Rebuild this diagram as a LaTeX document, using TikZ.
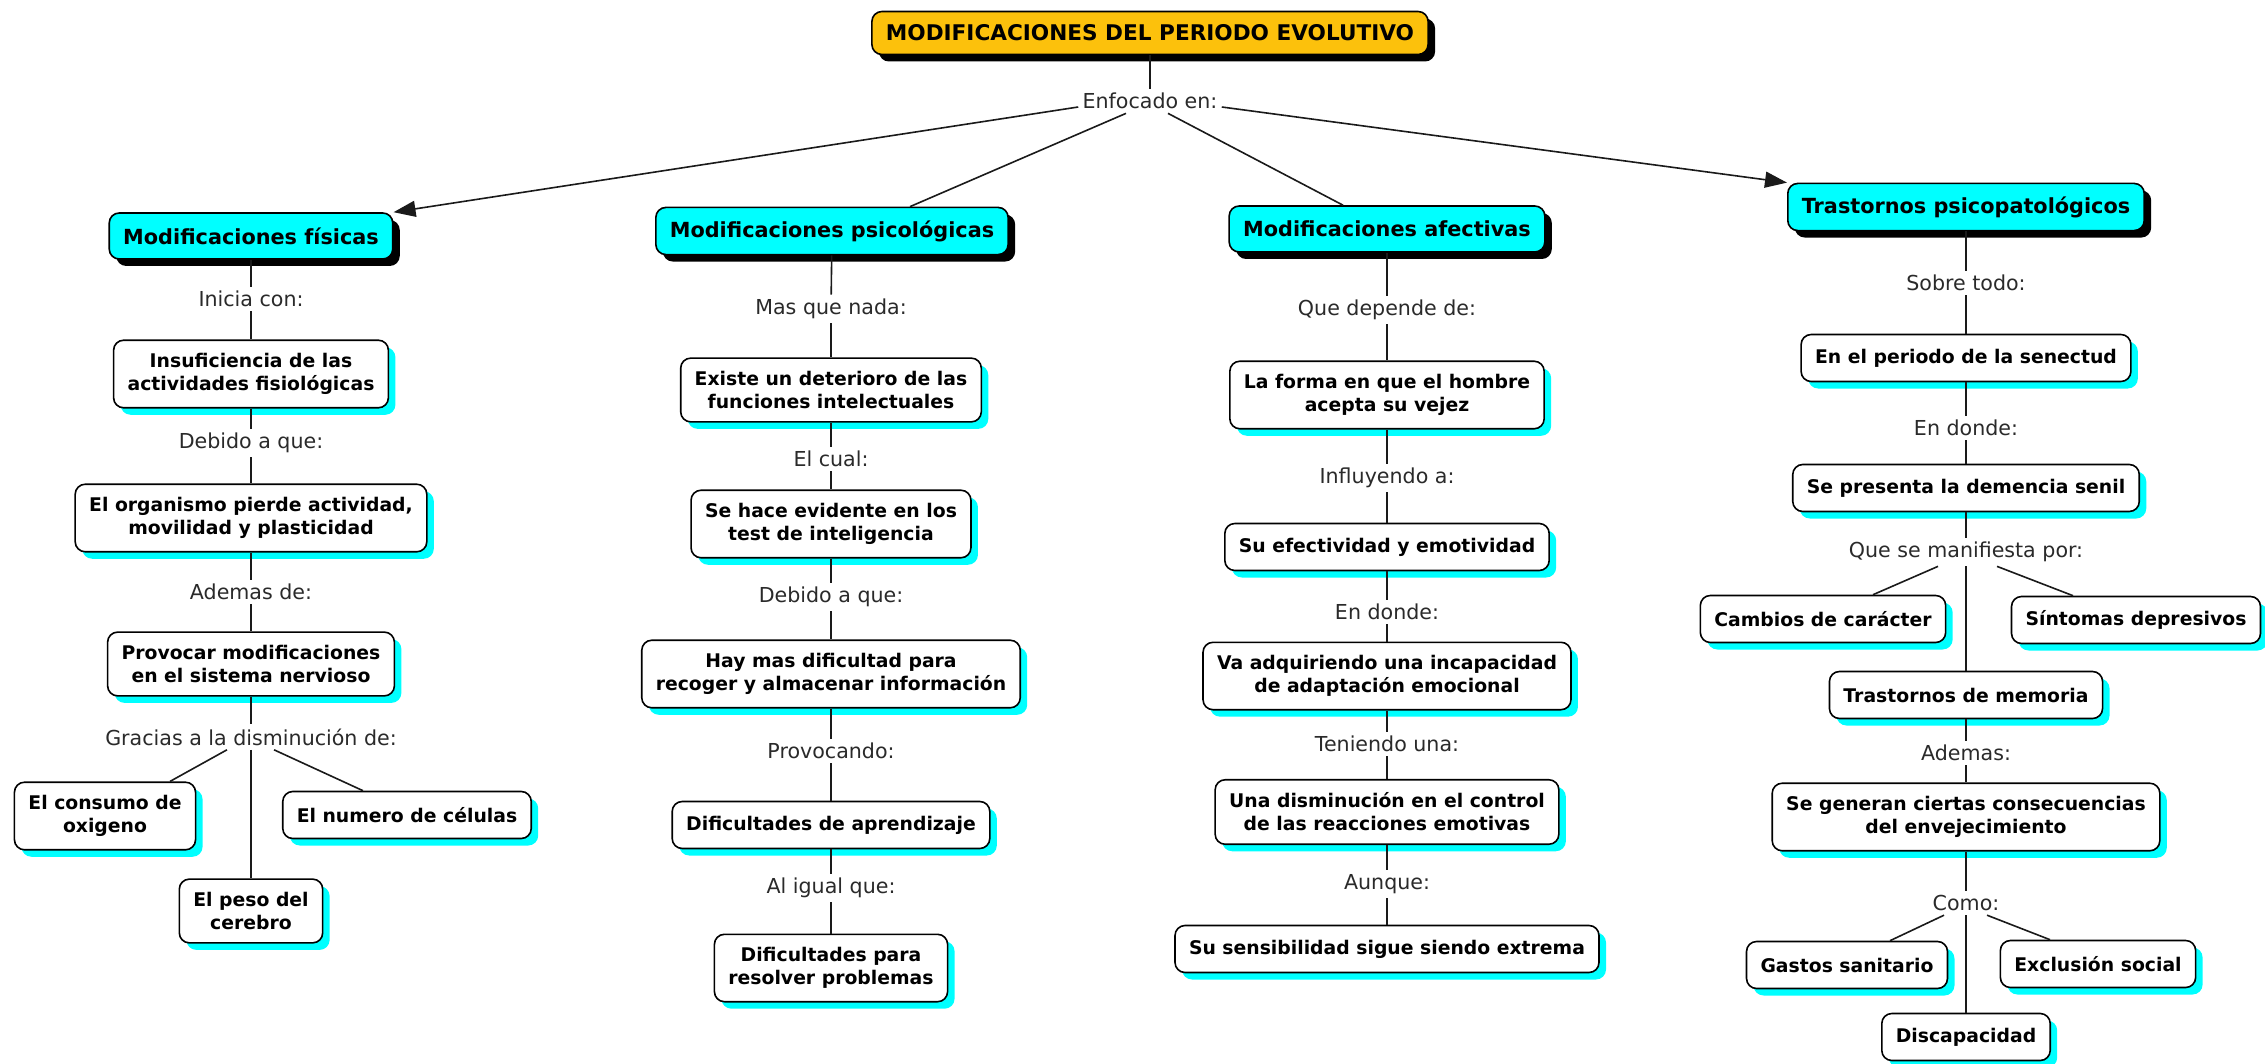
\documentclass[tikz,border=0pt]{standalone}
\usepackage{fontspec}
\setmainfont{DejaVu Sans}
\usetikzlibrary{shadows,arrows.meta}
\definecolor{gold}{HTML}{FCC10C}
\definecolor{cyanbox}{HTML}{00FFFF}
\definecolor{linec}{HTML}{1A1A1A}
\definecolor{labc}{HTML}{2A2A2A}
\begin{document}
\begin{tikzpicture}[x=0.5pt,y=-0.5pt,
  base/.style={rounded corners=5pt, draw=black, line width=0.8pt, align=center,
    font=\bfseries\fontsize{9.4}{11.6}\selectfont, inner xsep=7pt, inner ysep=6.5pt, minimum height=23.5pt},
  titlebox/.style={base, fill=gold, font=\bfseries\fontsize{10.8}{13}\selectfont, inner ysep=5pt, minimum height=21.5pt,
    drop shadow={shadow xshift=3.5pt, shadow yshift=-3.5pt, fill=black, opacity=1}},
  catbox/.style={base, fill=cyanbox, font=\bfseries\fontsize{10.4}{12.5}\selectfont, minimum height=23pt,
    drop shadow={shadow xshift=3.5pt, shadow yshift=-3.5pt, fill=black, opacity=1}},
  itembox/.style={base, fill=white,
    drop shadow={shadow xshift=3.5pt, shadow yshift=-3.5pt, fill=cyanbox, opacity=1}},
  lab/.style={font=\fontsize{10.3}{12}\selectfont, text=labc, inner sep=2pt},
  conn/.style={draw=linec, line width=0.8pt},
  arr/.style={conn, -{Triangle[length=11pt,width=8pt]}}
]
\fill[white] (0,0) rectangle (2265,1064);
\useasboundingbox (0,0) rectangle (2265,1064);

% top
\node[titlebox] (t0) at (1150,33) {MODIFICACIONES DEL PERIODO EVOLUTIVO};
\node[lab] (l0) at (1150,101) {Enfocado en:};

% column 1
\node[catbox] (a0) at (251,236) {Modificaciones físicas};
\node[lab] (la1) at (251,299) {Inicia con:};
\node[itembox] (a1) at (251,374) {Insuficiencia de las\\actividades fisiológicas};
\node[lab] (la2) at (251,443) {Debido a que:};
\node[itembox] (a2) at (251,518) {El organismo pierde actividad,\\movilidad y plasticidad};
\node[lab] (la3) at (251,592) {Ademas de:};
\node[itembox] (a3) at (251,664) {Provocar modificaciones\\en el sistema nervioso};
\node[lab] (la4) at (251,737) {Gracias a la disminución de:};
\node[itembox] (a4) at (105,816) {El consumo de\\oxigeno};
\node[itembox] (a5) at (251,911) {El peso del\\cerebro};
\node[itembox] (a6) at (407,815) {El numero de células};

% column 2
\node[catbox] (b0) at (832,231) {Modificaciones psicológicas};
\node[lab] (lb1) at (831,309) {Mas que nada:};
\node[itembox] (b1) at (831,390) {Existe un deterioro de las\\funciones intelectuales};
\node[lab] (lb2) at (831,459) {El cual:};
\node[itembox] (b2) at (831,524) {Se hace evidente en los\\test de inteligencia};
\node[lab] (lb3) at (831,597) {Debido a que:};
\node[itembox] (b3) at (831,674) {Hay mas dificultad para\\recoger y almacenar información};
\node[lab] (lb4) at (831,751) {Provocando:};
\node[itembox] (b4) at (831,825) {Dificultades de aprendizaje};
\node[lab] (lb5) at (831,888) {Al igual que:};
\node[itembox] (b5) at (831,968) {Dificultades para\\resolver problemas};

% column 3
\node[catbox] (c0) at (1387,229) {Modificaciones afectivas};
\node[lab] (lc1) at (1387,310) {Que depende de:};
\node[itembox] (c1) at (1387,395) {La forma en que el hombre\\acepta su vejez};
\node[lab] (lc2) at (1387,478) {Influyendo a:};
\node[itembox] (c2) at (1387,547) {Su efectividad y emotividad};
\node[lab] (lc3) at (1387,612) {En donde:};
\node[itembox] (c3) at (1387,676) {Va adquiriendo una incapacidad\\de adaptación emocional};
\node[lab] (lc4) at (1387,744) {Teniendo una:};
\node[itembox] (c4) at (1387,812) {Una disminución en el control\\de las reacciones emotivas};
\node[lab] (lc5) at (1387,884) {Aunque:};
\node[itembox] (c5) at (1387,949) {Su sensibilidad sigue siendo extrema};

% column 4
\node[catbox] (d0) at (1966,207) {Trastornos psicopatológicos};
\node[lab] (ld1) at (1966,283) {Sobre todo:};
\node[itembox] (d1) at (1966,358) {En el periodo de la senectud};
\node[lab] (ld2) at (1966,428) {En donde:};
\node[itembox] (d2) at (1966,488) {Se presenta la demencia senil};
\node[lab] (ld3) at (1966,552) {Que se manifiesta por:};
\node[itembox] (d3) at (1823,619) {Cambios de carácter};
\node[itembox] (d4) at (2136,620) {Síntomas depresivos};
\node[itembox] (d5) at (1966,695) {Trastornos de memoria};
\node[lab] (ld4) at (1966,753) {Ademas:};
\node[itembox] (d6) at (1966,817) {Se generan ciertas consecuencias\\del envejecimiento};
\node[lab] (ld5) at (1966,903) {Como:};
\node[itembox] (d7) at (1847,965) {Gastos sanitario};
\node[itembox] (d8) at (2098,964) {Exclusión social};
\node[itembox] (d9) at (1966,1037) {Discapacidad};

% top connectors
\draw[conn] (t0) -- (l0);
\draw[arr] ([yshift=-3pt]l0.west) -- (a0.north east);
\draw[conn] ([xshift=-12pt]l0.south) -- ([xshift=39pt]b0.north);
\draw[conn] ([xshift=9pt]l0.south) -- ([xshift=-22pt]c0.north);
\draw[arr] ([yshift=-3pt]l0.east) -- (d0.north west);

% column 1 connectors
\draw[conn] (a0) -- (la1);
\draw[conn] (la1) -- (a1);
\draw[conn] (a1) -- (la2);
\draw[conn] (la2) -- (a2);
\draw[conn] (a2) -- (la3);
\draw[conn] (la3) -- (a3);
\draw[conn] (a3) -- (la4);
\draw[conn] ([xshift=-12pt]la4.south) -- ([xshift=32.5pt]a4.north);
\draw[conn] (la4) -- (a5);
\draw[conn] ([xshift=11.5pt]la4.south) -- ([xshift=-22pt]a6.north);

% column 2 connectors
\draw[conn] (b0) -- (lb1);
\draw[conn] (lb1) -- (b1);
\draw[conn] (b1) -- (lb2);
\draw[conn] (lb2) -- (b2);
\draw[conn] (b2) -- (lb3);
\draw[conn] (lb3) -- (b3);
\draw[conn] (b3) -- (lb4);
\draw[conn] (lb4) -- (b4);
\draw[conn] (b4) -- (lb5);
\draw[conn] (lb5) -- (b5);

% column 3 connectors
\draw[conn] (c0) -- (lc1);
\draw[conn] (lc1) -- (c1);
\draw[conn] (c1) -- (lc2);
\draw[conn] (lc2) -- (c2);
\draw[conn] (c2) -- (lc3);
\draw[conn] (lc3) -- (c3);
\draw[conn] (c3) -- (lc4);
\draw[conn] (lc4) -- (c4);
\draw[conn] (c4) -- (lc5);
\draw[conn] (lc5) -- (c5);

% column 4 connectors
\draw[conn] (d0) -- (ld1);
\draw[conn] (ld1) -- (d1);
\draw[conn] (d1) -- (ld2);
\draw[conn] (ld2) -- (d2);
\draw[conn] (d2) -- (ld3);
\draw[conn] ([xshift=-14pt]ld3.south) -- ([xshift=25pt]d3.north);
\draw[conn] ([xshift=15.5pt]ld3.south) -- ([xshift=-31.5pt]d4.north);
\draw[conn] (ld3) -- (d5);
\draw[conn] (d5) -- (ld4);
\draw[conn] (ld4) -- (d6);
\draw[conn] (d6) -- (ld5);
\draw[conn] ([xshift=-11pt]ld5.south) -- ([xshift=21.5pt]d7.north);
\draw[conn] ([xshift=10.5pt]ld5.south) -- ([xshift=-24pt]d8.north);
\draw[conn] (ld5) -- (d9);
\end{tikzpicture}
\end{document}
